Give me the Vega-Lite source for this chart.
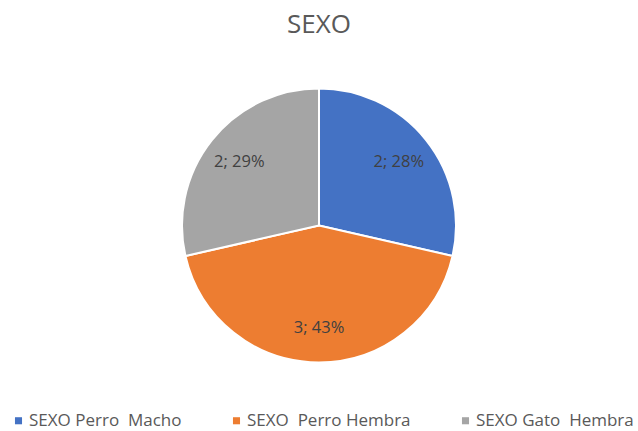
{
  "$schema": "https://vega.github.io/schema/vega-lite/v6.json",
  "width": 638,
  "height": 411,
  "autosize": "none",
  "padding": {"left": 0, "top": 20, "right": 0, "bottom": 0},
  "background": "white",
  "title": {"text": "SEXO", "fontSize": 26, "font": "Open Sans", "fontWeight": "normal", "color": "#595959", "anchor": "middle", "offset": -18},
  "data": {"values": [
    {"categoria": "SEXO Perro\u00a0 Macho", "valor": 2, "etiqueta": "2; 28%", "orden": 1},
    {"categoria": "SEXO\u00a0 Perro Hembra", "valor": 3, "etiqueta": "3; 43%", "orden": 2},
    {"categoria": "SEXO Gato\u00a0 Hembra", "valor": 2, "etiqueta": "2; 29%", "orden": 3}
  ]},
  "encoding": {
    "theta": {"field": "valor", "type": "quantitative", "stack": true},
    "order": {"field": "orden", "type": "quantitative"},
    "color": {
      "field": "categoria", "type": "nominal",
      "scale": {"domain": ["SEXO Perro\u00a0 Macho", "SEXO\u00a0 Perro Hembra", "SEXO Gato\u00a0 Hembra"], "range": ["#4472C4", "#ED7D31", "#A5A5A5"]},
      "legend": {"title": null, "orient": "none", "direction": "horizontal", "legendX": 10, "legendY": 392, "symbolType": "square", "symbolSize": 50, "labelFontSize": 17, "labelFont": "Open Sans", "labelColor": "#595959", "columnPadding": 46, "labelLimit": 300, "symbolStrokeWidth": 0, "labelOffset": 2}
    }
  },
  "layer": [
    {"mark": {"type": "arc", "outerRadius": 137, "stroke": "white", "strokeWidth": 2}},
    {"mark": {"type": "text", "radius": 102, "fontSize": 16.5, "font": "Open Sans", "fill": "#404040"},
     "encoding": {"text": {"field": "etiqueta"}, "color": {"value": "#404040"}}}
  ],
  "config": {"view": {"stroke": null}}
}
